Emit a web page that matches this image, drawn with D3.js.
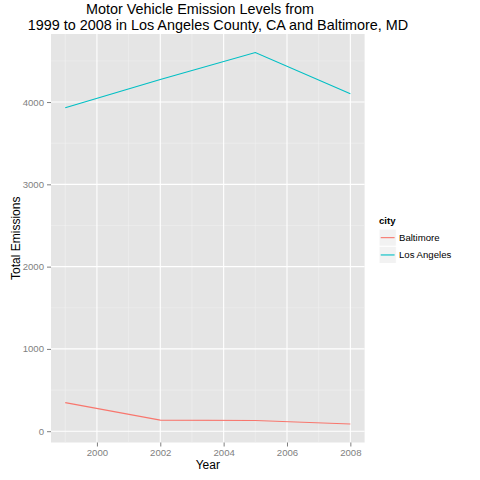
<!DOCTYPE html>
<html><head><meta charset="utf-8">
<script src="https://cdn.jsdelivr.net/npm/d3@7"></script>
<style>body{margin:0;background:#fff}svg{display:block;font-family:"Liberation Sans",Arial,sans-serif}</style>
</head><body>
<svg id="c" width="480" height="480"></svg>
<script>
const years = [1999, 2002, 2005, 2008];
const baltimore = [346.82, 134.31, 130.43, 88.28];
const losAngeles = [3931.12, 4274.03, 4601.41, 4101.32];
const cities = ["Baltimore", "Los Angeles"];
const cityColors = ["#F8766D", "#00BFC4"];
const xTicks = [2000, 2002, 2004, 2006, 2008];
const xMinor = [1999, 2001, 2003, 2005, 2007];
const yTicks = [0, 1000, 2000, 3000, 4000];
const yMinor = [500, 1500, 2500, 3500, 4500];
const titleLines = ["Motor Vehicle Emission Levels from", "1999 to 2008 in Los Angeles County, CA and Baltimore, MD"];

const svg = d3.select("#c");
const L = 51, R = 364.6, T = 34, B = 442.5;

const xmin = d3.min(years), xmax = d3.max(years), xe = (xmax - xmin) * 0.05;
const x = d3.scaleLinear().domain([xmin - xe, xmax + xe]).range([L, R]);
const all = baltimore.concat(losAngeles);
const ymin = d3.min(all), ymax = d3.max(all), ye = (ymax - ymin) * 0.05;
const y = d3.scaleLinear().domain([ymin - ye, ymax + ye]).range([B, T]);

svg.append("rect").attr("x", L).attr("y", T).attr("width", R - L).attr("height", B - T).attr("fill", "#E5E5E5");

const g = svg.append("g");
g.selectAll(".xm").data(xMinor).join("line").attr("x1", d => x(d)).attr("x2", d => x(d)).attr("y1", T).attr("y2", B).attr("stroke", "#F2F2F2").attr("stroke-width", 0.5);
g.selectAll(".ym").data(yMinor).join("line").attr("y1", d => y(d)).attr("y2", d => y(d)).attr("x1", L).attr("x2", R).attr("stroke", "#F2F2F2").attr("stroke-width", 0.5);
g.selectAll(".xM").data(xTicks).join("line").attr("x1", d => x(d)).attr("x2", d => x(d)).attr("y1", T).attr("y2", B).attr("stroke", "#fff").attr("stroke-width", 1.1);
g.selectAll(".yM").data(yTicks).join("line").attr("y1", d => y(d)).attr("y2", d => y(d)).attr("x1", L).attr("x2", R).attr("stroke", "#fff").attr("stroke-width", 1.1);

const xAxis = d3.axisBottom(x).tickValues(xTicks).tickFormat(d3.format("d")).tickSize(4).tickPadding(3);
const xa = svg.append("g").attr("transform", `translate(0,${B})`).call(xAxis);
const yAxis = d3.axisLeft(y).tickValues(yTicks).tickFormat(d3.format("d")).tickSize(4).tickPadding(3);
const ya = svg.append("g").attr("transform", `translate(${L},0)`).call(yAxis);
[xa, ya].forEach(a => {
  a.select(".domain").remove();
  a.selectAll(".tick line").attr("stroke", "#7F7F7F").attr("stroke-width", 1);
  a.selectAll(".tick text").attr("fill", "#7F7F7F").style("font-size", "9.6px").style("font-family", "Liberation Sans, Arial, sans-serif");
});
xa.selectAll(".tick text").attr("dy", "0.71em");

const series = [baltimore, losAngeles];
const line = d3.line().x((d, i) => x(years[i])).y(d => y(d));
svg.selectAll(".ser").data(series).join("path").attr("d", d => line(d)).attr("fill", "none")
  .attr("stroke", (d, i) => cityColors[i]).attr("stroke-width", 1.1);

svg.selectAll(".tt").data(titleLines).join("text")
  .attr("x", (d, i) => i === 0 ? 200 : 218).attr("y", (d, i) => i === 0 ? 13.5 : 29.5)
  .attr("text-anchor", "middle").style("font-size", "14.4px").attr("fill", "#000").text(d => d);

svg.append("text").attr("x", (L + R) / 2).attr("y", 469).attr("text-anchor", "middle").style("font-size", "12px").text("Year");
svg.append("text").attr("transform", `translate(20,${(T + B) / 2}) rotate(-90)`).attr("text-anchor", "middle").style("font-size", "12px").text("Total Emissions");

const lg = svg.append("g").attr("transform", "translate(379,0)");
lg.append("text").attr("x", 0).attr("y", 224).style("font-size", "9.6px").style("font-weight", "bold").text("city");
const items = lg.selectAll(".it").data(cities).join("g").attr("transform", (d, i) => `translate(0,${229 + i * 17.3})`);
items.append("rect").attr("width", 17.3).attr("height", 17.3).attr("fill", "#F2F2F2").attr("stroke", "#fff").attr("stroke-width", 1);
items.append("line").attr("x1", 1.7).attr("x2", 15.6).attr("y1", 8.65).attr("y2", 8.65).attr("stroke", (d, i) => cityColors[i]).attr("stroke-width", 1.1);
items.append("text").attr("x", 20).attr("y", 12).style("font-size", "9.6px").text(d => d);
</script>
</body></html>
